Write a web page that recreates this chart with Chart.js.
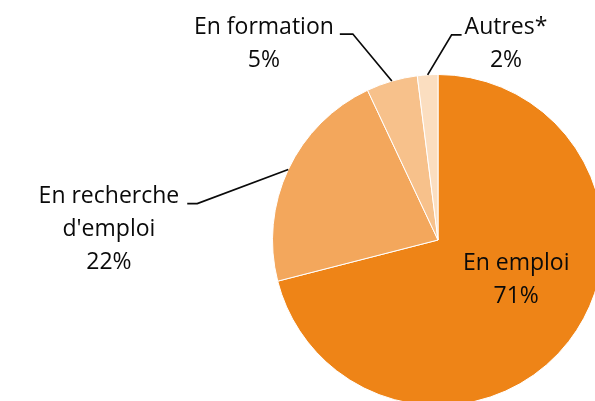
<!DOCTYPE html>
<html lang="fr">

<head>
    <meta charset="UTF-8">
    <title>Situation</title>
    <script src="https://cdn.jsdelivr.net/npm/chart.js"></script>
    <style>
        html, body {
            margin: 0;
            padding: 0;
            background: #fff;
            overflow: hidden;
        }

        .chartBox {
            position: absolute;
            left: 0;
            top: 0;
            width: 620px;
            height: 420px;
        }
    </style>
</head>

<body>
    <div class="chartBox">
        <canvas id="myChart" width="620" height="420"></canvas>
    </div>
    <script>
        const categories = ['En emploi', "En recherche d'emploi", 'En formation', 'Autres*'];
        const labelLines = [['En emploi'], ['En recherche', "d'emploi"], ['En formation'], ['Autres*']];
        const shares = [71, 22, 5, 2];
        const colours = ['#EE8417', '#F3A75C', '#F7C18B', '#FBDEC0'];

        // leader lines: elbow offset from the slice edge, then a short flat tail
        const leaders = [
            null,
            { dx: -91, dy: 34, tail: -10, gap: 8 },
            { dx: -39, dy: -47, tail: -13, gap: 6 },
            { dx: 24, dy: -40, tail: 10, gap: 3 }
        ];

        const FONT = '23px "Open Sans"';
        const LINE_H = 33;

        const pieLabels = {
            id: 'pieLabels',
            afterDatasetsDraw(chart) {
                const ctx = chart.ctx;
                const meta = chart.getDatasetMeta(0);
                ctx.save();
                ctx.font = FONT;
                ctx.fillStyle = '#0a0a0a';
                ctx.strokeStyle = '#0a0a0a';
                ctx.lineWidth = 1.7;
                ctx.textBaseline = 'middle';
                ctx.textAlign = 'center';
                meta.data.forEach((arc, i) => {
                    const p = arc.getProps(['x', 'y', 'startAngle', 'endAngle', 'outerRadius'], true);
                    const mid = (p.startAngle + p.endAngle) / 2;
                    const lines = labelLines[i].concat([shares[i] + '%']);
                    const lead = leaders[i];
                    if (!lead) {
                        // label inside the big slice
                        const cx = p.x + Math.cos(mid - 0.19) * p.outerRadius * 0.53;
                        const cy = p.y + Math.sin(mid - 0.19) * p.outerRadius * 0.53;
                        lines.forEach((t, k) => {
                            ctx.fillText(t, cx, cy + (k - (lines.length - 1) / 2) * LINE_H);
                        });
                        return;
                    }
                    const ax = p.x + Math.cos(mid) * p.outerRadius;
                    const ay = p.y + Math.sin(mid) * p.outerRadius;
                    const ex = ax + lead.dx;
                    const ey = ay + lead.dy;
                    const tx = ex + lead.tail;
                    ctx.beginPath();
                    ctx.moveTo(ax, ay);
                    ctx.lineTo(ex, ey);
                    ctx.lineTo(tx, ey);
                    ctx.stroke();
                    const w = Math.max(...lines.map(t => ctx.measureText(t).width));
                    const cx = lead.tail < 0 ? tx - lead.gap - w / 2 : tx + lead.gap + w / 2;
                    const y0 = ey - 7;
                    lines.forEach((t, k) => {
                        ctx.fillText(t, cx, y0 + k * LINE_H);
                    });
                });
                ctx.restore();
            }
        };

        new Chart(document.getElementById('myChart'), {
            type: 'pie',
            data: {
                labels: categories,
                datasets: [{
                    data: shares,
                    backgroundColor: colours,
                    borderColor: '#ffffff',
                    borderWidth: 1
                }]
            },
            options: {
                responsive: false,
                animation: false,
                layout: {
                    padding: { left: 272, top: 74, right: 16, bottom: 14 }
                },
                plugins: {
                    legend: { display: false },
                    tooltip: { enabled: false }
                }
            },
            plugins: [pieLabels]
        });
    </script>
</body>

</html>
